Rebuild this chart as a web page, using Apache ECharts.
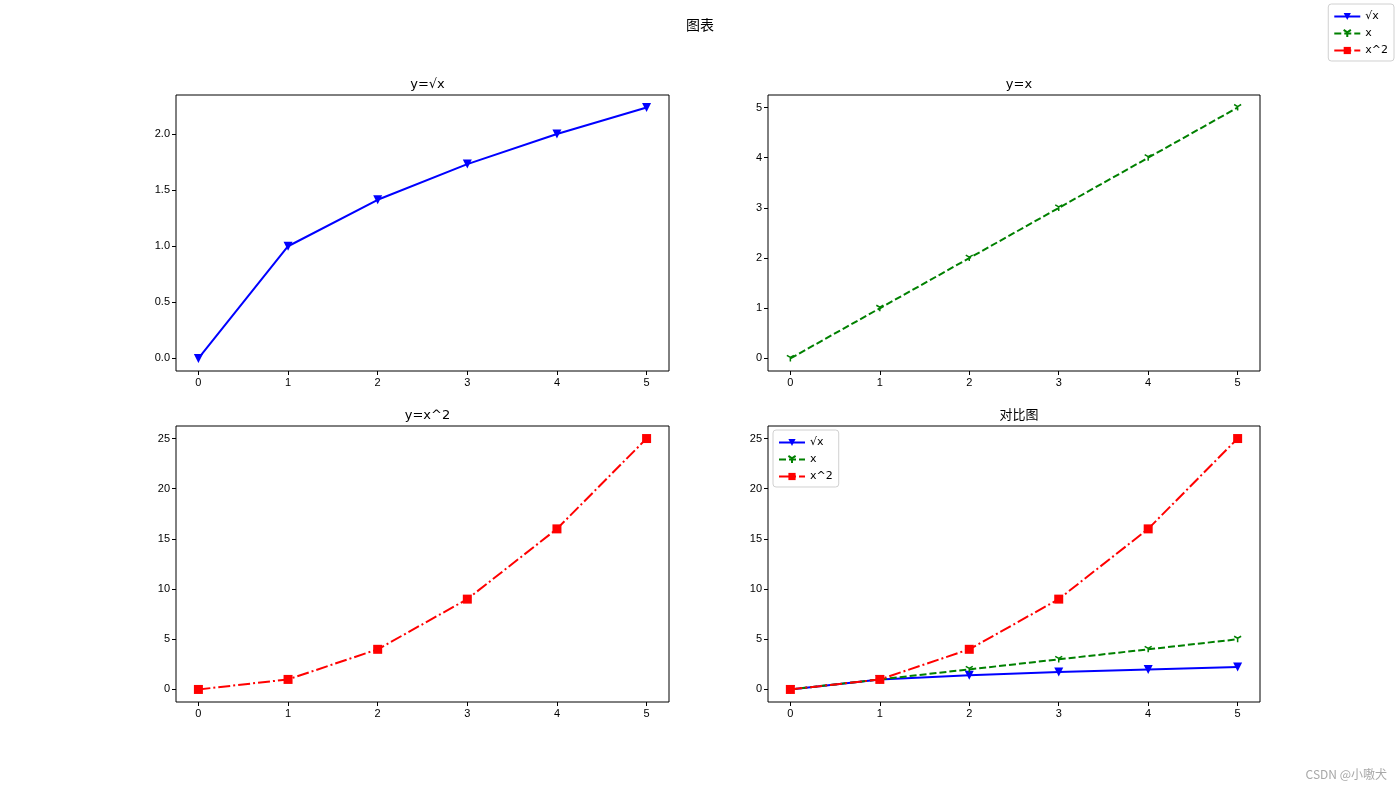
<!DOCTYPE html>
<html>
<head>
<meta charset="utf-8">
<script src="https://cdn.jsdelivr.net/npm/echarts@6/dist/echarts.min.js"></script>
<style>
html,body{margin:0;padding:0;background:#fff;}
#main{width:1400px;height:788px;}
</style>
</head>
<body>
<div id="main"></div>
<script>
// ---- data ----
var xValues = [0, 1, 2, 3, 4, 5];
var sqrtValues = [0, 1, 1.414, 1.732, 2, 2.236];
var linearValues = [0, 1, 2, 3, 4, 5];
var squareValues = [0, 1, 4, 9, 16, 25];
var seriesNames = ['√x', 'x', 'x^2'];
var panelTitles = ['y=√x', 'y=x', 'y=x^2', '对比图'];
var mainTitle = '图表';
var xTicks = [0, 1, 2, 3, 4, 5];
var yTicksSqrt = [0, 0.5, 1, 1.5, 2];
var yTicksLinear = [0, 1, 2, 3, 4, 5];
var yTicksSquare = [0, 5, 10, 15, 20, 25];
var watermark = 'CSDN @小嗷犬';

function pairs(ys) { return xValues.map(function (x, i) { return [x, ys[i]]; }); }

var FONT = '"DejaVu Sans", "Noto Sans CJK SC", sans-serif';
var TICKFONT = '"Liberation Sans", sans-serif';

var grids = [
  {left: 176, top: 95, width: 493, height: 276},
  {left: 768, top: 95, width: 492, height: 276},
  {left: 176, top: 426, width: 493, height: 276},
  {left: 768, top: 426, width: 492, height: 276}
];
grids.forEach(function (g) { g.show = true; g.borderColor = '#000'; g.borderWidth = 1; g.backgroundColor = 'transparent'; });

function padRange(lo, hi) { var m = (hi - lo) * 0.05; return [lo - m, hi + m]; }

function xAxis(i) {
  var r = padRange(0, 5);
  return {
    type: 'value', gridIndex: i, min: r[0], max: r[1], position: 'bottom',
    axisLine: {show: false, onZero: false},
    splitLine: {show: false},
    axisTick: {show: true, inside: false, length: 4, lineStyle: {color: '#000'}, customValues: xTicks},
    axisLabel: {show: true, color: '#000', fontSize: 11, fontFamily: TICKFONT, margin: 6, customValues: xTicks}
  };
}
function yAxis(i, hi, ticks, fmt) {
  var r = padRange(0, hi);
  return {
    type: 'value', gridIndex: i, min: r[0], max: r[1], position: 'left',
    axisLine: {show: false, onZero: false},
    splitLine: {show: false},
    axisTick: {show: true, inside: false, length: 4, lineStyle: {color: '#000'}, customValues: ticks},
    axisLabel: {show: true, color: '#000', fontSize: 11, fontFamily: TICKFONT, margin: 6, customValues: ticks,
      formatter: fmt}
  };
}

var triDown = 'path://M0,0 L0,10 M0,0 L-8.66,-5 M0,0 L8.66,-5';

function sqrtSeries(i) {
  return {name: seriesNames[0], type: 'line', xAxisIndex: i, yAxisIndex: i, data: pairs(sqrtValues),
    symbol: 'triangle', symbolRotate: 180, symbolSize: 9, showAllSymbol: true,
    lineStyle: {color: '#0000ff', width: 2, type: 'solid'},
    itemStyle: {color: '#0000ff'}, animation: false, z: 3};
}
function linSeries(i) {
  return {name: seriesNames[1], type: 'line', xAxisIndex: i, yAxisIndex: i, data: pairs(linearValues),
    symbol: triDown, symbolSize: 7, symbolKeepAspect: true, showAllSymbol: true,
    lineStyle: {color: '#008000', width: 2, type: [7, 3]},
    itemStyle: {color: 'rgba(0,0,0,0)', borderColor: '#008000', borderWidth: 1.5}, animation: false, z: 3};
}
function sqSeries(i) {
  return {name: seriesNames[2], type: 'line', xAxisIndex: i, yAxisIndex: i, data: pairs(squareValues),
    symbol: 'rect', symbolSize: 9, showAllSymbol: true,
    lineStyle: {color: '#ff0000', width: 2, type: [12, 3, 2, 3]},
    itemStyle: {color: '#ff0000'}, animation: false, z: 3};
}

var fmt1 = function (v) { return v.toFixed(1); };
var fmt0 = function (v) { return String(v); };

var legendCommon = {
  orient: 'vertical', itemWidth: 26, itemHeight: 9, itemGap: 6,
  textStyle: {fontSize: 11, color: '#000', fontFamily: FONT},
  backgroundColor: '#fff', borderColor: '#d0d0d0', borderWidth: 1, borderRadius: 3,
  padding: [7, 6, 5, 5], data: seriesNames, selectedMode: false
};

var titles = [{text: mainTitle, left: 'center', top: 13, textStyle: {fontSize: 14, fontWeight: 'normal', color: '#000', fontFamily: '"Noto Sans CJK SC", sans-serif'}}];
panelTitles.forEach(function (t, i) {
  var g = grids[i];
  titles.push({text: t, left: g.left + g.width / 2, top: g.top - 22, textAlign: 'center',
    textStyle: {fontSize: 13, fontWeight: 'normal', color: '#000', fontFamily: FONT}});
});

var option = {
  animation: false,
  title: titles,
  grid: grids,
  legend: [
    Object.assign({}, legendCommon, {right: 6, top: 4}),
    Object.assign({}, legendCommon, {left: 773, top: 430})
  ],
  xAxis: [xAxis(0), xAxis(1), xAxis(2), xAxis(3)],
  yAxis: [yAxis(0, 2.236, yTicksSqrt, fmt1), yAxis(1, 5, yTicksLinear, fmt0), yAxis(2, 25, yTicksSquare, fmt0), yAxis(3, 25, yTicksSquare, fmt0)],
  series: [sqrtSeries(0), linSeries(1), sqSeries(2), sqrtSeries(3), linSeries(3), sqSeries(3)],
  graphic: [{type: 'text', right: 13, bottom: 8, style: {text: watermark, fill: '#a8a8a8', fontSize: 12, fontFamily: '"Noto Sans CJK SC", sans-serif'}}]
};

var chart = echarts.init(document.getElementById('main'), null, {renderer: 'canvas'});
chart.setOption(option);
</script>
</body>
</html>
